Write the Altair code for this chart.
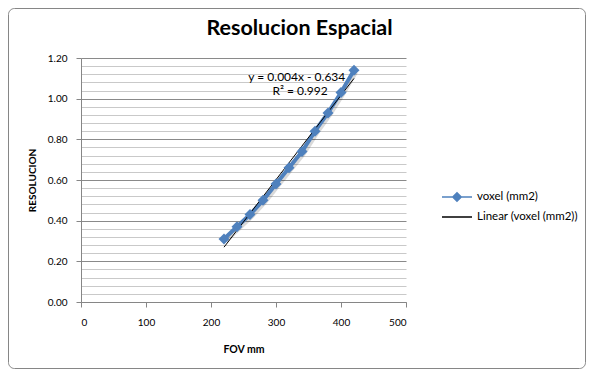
import altair as alt
import pandas as pd

# ---- data ----
fov = [220, 240, 260, 280, 300, 320, 340, 360, 380, 400, 420]
voxel = [0.31, 0.37, 0.43, 0.50, 0.58, 0.66, 0.74, 0.84, 0.93, 1.03, 1.14]

series_names = ["voxel (mm2)", "Linear (voxel (mm2))"]
series_colors = ["#4F81BD", "#000000"]

x_ticks = [0, 100, 200, 300, 400, 500]
y_major = [0.0, 0.2, 0.4, 0.6, 0.8, 1.0, 1.2]
y_minor_step = 0.04
y_ticks = [round(i * y_minor_step, 2) for i in range(int(round(1.2 / y_minor_step)) + 1)]

ann_text = ["y = 0.004x - 0.634", "R² = 0.992"]
ann_x = [332, 337]
ann_y = [1.107, 1.038]

FONT = "Lato"

df = pd.DataFrame({"fov": fov, "voxel": voxel})
ann_df = pd.DataFrame({"t": ann_text, "fov": ann_x, "voxel": ann_y})

is_major = "abs(datum.value * 5 - round(datum.value * 5)) < 0.001"

x_enc = alt.X(
    "fov:Q",
    scale=alt.Scale(domain=[0, 500], nice=False),
    axis=alt.Axis(
        values=x_ticks, title="FOV mm", grid=False, format="d",
        labelFont=FONT, labelFontSize=10, labelColor="#000000",
        titleFont=FONT, titleFontSize=10.5, titleFontWeight="bold", titleColor="#000000",
        domainColor="#868686", tickColor="#868686", tickSize=5,
        labelPadding=10, titlePadding=17,
    ),
)
y_enc = alt.Y(
    "voxel:Q",
    scale=alt.Scale(domain=[0, 1.2], nice=False),
    axis=alt.Axis(
        values=y_ticks, tickCount=60, title="RESOLUCION",
        labelExpr=f"({is_major}) ? format(datum.value, '.2f') : ''",
        labelOverlap=False,
        gridColor={"condition": {"test": is_major, "value": "#8a8a8a"}, "value": "#c9c9c9"},
        tickOpacity={"condition": {"test": is_major, "value": 1}, "value": 0},
        labelFont=FONT, labelFontSize=10, labelColor="#000000",
        titleFont=FONT, titleFontSize=10, titleFontWeight="bold", titleColor="#000000",
        domainColor="#868686", tickColor="#868686", tickSize=5,
        labelPadding=9, titlePadding=10,
    ),
)

base = alt.Chart(df).encode(x=x_enc, y=y_enc)

shadow = base.mark_line(color="#000000", opacity=0.15, strokeWidth=4, xOffset=2, yOffset=2)
line = base.mark_line(color="#4F81BD", strokeWidth=4)
pts = base.mark_point(shape="diamond", filled=True, size=120, color="#4F81BD", opacity=1)
reg = base.transform_regression("fov", "voxel").mark_line(color="#000000", strokeWidth=1)

path_series = "M-1.5,0L1.5,0M0,-0.42L0.42,0L0,0.42L-0.42,0Z"
path_linear = "M-1.5,0L1.5,0"
leg = alt.Legend(
    title=None, orient="none", legendX=365, legendY=128,
    symbolSize=400, symbolOpacity=1, symbolStrokeWidth=1.5,
    labelFont=FONT, labelFontSize=11.5, labelColor="#000000",
    labelOffset=9, rowPadding=1, padding=0,
)
legend_layer = base.transform_calculate(series="'voxel (mm2)'").mark_point(
    opacity=0, filled=True
).encode(
    color=alt.Color("series:N", scale=alt.Scale(domain=series_names, range=series_colors), legend=leg),
    stroke=alt.Stroke("series:N", scale=alt.Scale(domain=series_names, range=series_colors), legend=leg),
    shape=alt.Shape("series:N", scale=alt.Scale(domain=series_names, range=[path_series, path_linear]), legend=leg),
)

ann = alt.Chart(ann_df).mark_text(font=FONT, fontSize=12, color="#000000").encode(
    x=alt.X("fov:Q"), y=alt.Y("voxel:Q"), text="t:N"
)

border = alt.Chart(pd.DataFrame({"a": [0]})).mark_rect(
    fillOpacity=0, stroke="#868686", strokeWidth=1, cornerRadius=6
).encode(
    x=alt.value(-72.5), x2=alt.value(504.5), y=alt.value(-49.5), y2=alt.value(310.5)
)

chart = alt.layer(shadow, line, reg, pts, legend_layer, ann, border).properties(
    width=325, height=244,
    title=alt.TitleParams(
        "Resolucion Espacial", font=FONT, fontSize=21.5, fontWeight="bold",
        color="#000000", anchor="middle", frame="group", dx=56, offset=-31,
    ),
    autosize=alt.AutoSizeParams(type="none"),
    padding={"left": 73, "top": 50, "right": 180, "bottom": 67},
).configure_view(stroke=None)

chart.save("out.html", embed_options={"renderer": "svg", "actions": False})
